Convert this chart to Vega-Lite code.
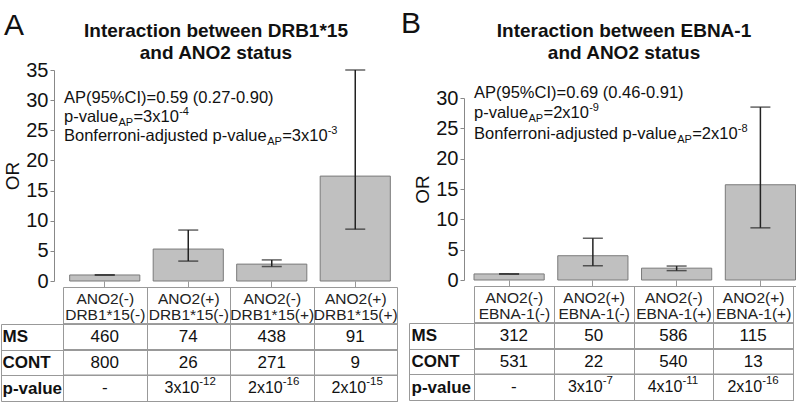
{
  "$schema": "https://vega.github.io/schema/vega-lite/v6.json",
  "padding": {"left": 0, "top": 9, "right": 0, "bottom": 0},
  "background": "white",
  "config": {"font": "Liberation Sans", "view": {"stroke": null}, "axis": {"grid": false}, "axisQuantitative": {"labelOverlap": false, "tickCount": 8}},
  "datasets": {
    "A": [
      {"grp": "ANO2(-)|DRB1*15(-)", "OR": 1, "lo": 1, "hi": 1, "MS": 460, "CONT": 800, "p-value": "-", "pexp": ""},
      {"grp": "ANO2(+)|DRB1*15(-)", "OR": 5.3, "lo": 3.3, "hi": 8.45, "MS": 74, "CONT": 26, "p-value": "3x10", "pexp": "-12"},
      {"grp": "ANO2(-)|DRB1*15(+)", "OR": 2.8, "lo": 2.4, "hi": 3.5, "MS": 438, "CONT": 271, "p-value": "2x10", "pexp": "-16"},
      {"grp": "ANO2(+)|DRB1*15(+)", "OR": 17.4, "lo": 8.6, "hi": 35, "MS": 91, "CONT": 9, "p-value": "2x10", "pexp": "-15"}
    ],
    "B": [
      {"grp": "ANO2(-)|EBNA-1(-)", "OR": 1, "lo": 1, "hi": 1, "MS": 312, "CONT": 531, "p-value": "-", "pexp": ""},
      {"grp": "ANO2(+)|EBNA-1(-)", "OR": 4.0, "lo": 2.35, "hi": 6.9, "MS": 50, "CONT": 22, "p-value": "3x10", "pexp": "-7"},
      {"grp": "ANO2(-)|EBNA-1(+)", "OR": 1.95, "lo": 1.55, "hi": 2.3, "MS": 586, "CONT": 540, "p-value": "4x10", "pexp": "-11"},
      {"grp": "ANO2(+)|EBNA-1(+)", "OR": 15.7, "lo": 8.6, "hi": 28.5, "MS": 115, "CONT": 13, "p-value": "2x10", "pexp": "-16"}
    ]
  },
  "bounds": "full",
  "spacing": 3,
  "hconcat": [
    {
      "bounds": "flush",
      "spacing": 43,
      "vconcat": [
        {"width": 10, "height": 1, "data": {"values": []}, "mark": "point", "encoding": {}},
        {
          "width": 334,
          "height": 211,
          "data": {"name": "A"},
          "encoding": {
            "x": {"field": "grp", "type": "nominal", "sort": null, "scale": {"paddingInner": 0.16, "paddingOuter": 0.08},
              "axis": {"orient": "bottom", "offset": 6, "labels": false, "title": null, "tickSize": -6, "domainColor": "#999", "tickColor": "#999"}}
          },
          "layer": [
            {"mark": {"type": "bar", "fill": "#c0c0c0", "stroke": "#7a7a7a", "strokeWidth": 1},
              "encoding": {"y": {"field": "OR", "type": "quantitative", "title": "OR", "scale": {"domain": [0, 35], "nice": false},
                "axis": {"values": [0, 5, 10, 15, 20, 25, 30, 35], "labelOverlap": false, "offset": 9, "tickSize": 4, "labelFontSize": 20, "labelPadding": 2, "domainColor": "#888", "tickColor": "#888", "labelColor": "#111", "titleFontSize": 19, "titleFontWeight": "normal", "titleColor": "#111", "titlePadding": 3}}}},
            {"mark": {"type": "rule", "color": "#222", "strokeWidth": 1.5},
              "encoding": {"y": {"field": "lo", "type": "quantitative", "title": "OR", "scale": {"domain": [0, 35], "nice": false}}, "y2": {"field": "hi"}}},
            {"mark": {"type": "tick", "color": "#222", "thickness": 1.5, "size": 20, "orient": "horizontal"},
              "encoding": {"y": {"field": "lo", "type": "quantitative", "title": "OR", "scale": {"domain": [0, 35], "nice": false}}}},
            {"mark": {"type": "tick", "color": "#222", "thickness": 1.5, "size": 20, "orient": "horizontal"},
              "encoding": {"y": {"field": "hi", "type": "quantitative", "title": "OR", "scale": {"domain": [0, 35], "nice": false}}}},
            {"data": {"values": [{"t": "A"}]}, "mark": {"type": "text", "align": "left", "baseline": "alphabetic", "fontSize": 30, "dx": -65.7, "dy": -35, "color": "#111"},
              "encoding": {"x": {"datum": "ANO2(-)|DRB1*15(-)", "bandPosition": 0}, "y": {"datum": 35}, "text": {"field": "t"}}},
            {"data": {"values": [{"t": "Interaction between DRB1*15"}]}, "mark": {"type": "text", "align": "center", "baseline": "alphabetic", "fontSize": 19, "fontWeight": "bold", "dx": 146.3, "dy": -33, "color": "#111"},
              "encoding": {"x": {"datum": "ANO2(-)|DRB1*15(-)", "bandPosition": 0}, "y": {"datum": 35}, "text": {"field": "t"}}},
            {"data": {"values": [{"t": "and ANO2 status"}]}, "mark": {"type": "text", "align": "center", "baseline": "alphabetic", "fontSize": 19, "fontWeight": "bold", "dx": 146.3, "dy": -11.5, "color": "#111"},
              "encoding": {"x": {"datum": "ANO2(-)|DRB1*15(-)", "bandPosition": 0}, "y": {"datum": 35}, "text": {"field": "t"}}},
            {"data": {"values": [{"t": "AP(95%CI)=0.59 (0.27-0.90)"}]}, "mark": {"type": "text", "align": "left", "baseline": "alphabetic", "fontSize": 16.5, "dx": -5.7, "color": "#111"},
              "encoding": {"x": {"datum": "ANO2(-)|DRB1*15(-)", "bandPosition": 0}, "y": {"datum": 29.52}, "text": {"field": "t"}}},
            {"data": {"values": [{"t": "p-value"}]}, "mark": {"type": "text", "align": "left", "baseline": "alphabetic", "fontSize": 16.5, "dx": -5.7, "color": "#111"},
              "encoding": {"x": {"datum": "ANO2(-)|DRB1*15(-)", "bandPosition": 0}, "y": {"datum": 26.37}, "text": {"field": "t"}}},
            {"data": {"values": [{"t": "AP"}]}, "mark": {"type": "text", "align": "left", "baseline": "alphabetic", "fontSize": 11, "dx": 48.8, "dy": 4, "color": "#111"},
              "encoding": {"x": {"datum": "ANO2(-)|DRB1*15(-)", "bandPosition": 0}, "y": {"datum": 26.37}, "text": {"field": "t"}}},
            {"data": {"values": [{"t": "=3x10"}]}, "mark": {"type": "text", "align": "left", "baseline": "alphabetic", "fontSize": 16.5, "dx": 63.8, "color": "#111"},
              "encoding": {"x": {"datum": "ANO2(-)|DRB1*15(-)", "bandPosition": 0}, "y": {"datum": 26.37}, "text": {"field": "t"}}},
            {"data": {"values": [{"t": "-4"}]}, "mark": {"type": "text", "align": "left", "baseline": "alphabetic", "fontSize": 11, "dx": 109.5, "dy": -7, "color": "#111"},
              "encoding": {"x": {"datum": "ANO2(-)|DRB1*15(-)", "bandPosition": 0}, "y": {"datum": 26.37}, "text": {"field": "t"}}},
            {"data": {"values": [{"t": "Bonferroni-adjusted p-value"}]}, "mark": {"type": "text", "align": "left", "baseline": "alphabetic", "fontSize": 16.5, "dx": -5.7, "color": "#111"},
              "encoding": {"x": {"datum": "ANO2(-)|DRB1*15(-)", "bandPosition": 0}, "y": {"datum": 23.22}, "text": {"field": "t"}}},
            {"data": {"values": [{"t": "AP"}]}, "mark": {"type": "text", "align": "left", "baseline": "alphabetic", "fontSize": 11, "dx": 197.5, "dy": 4, "color": "#111"},
              "encoding": {"x": {"datum": "ANO2(-)|DRB1*15(-)", "bandPosition": 0}, "y": {"datum": 23.22}, "text": {"field": "t"}}},
            {"data": {"values": [{"t": "=3x10"}]}, "mark": {"type": "text", "align": "left", "baseline": "alphabetic", "fontSize": 16.5, "dx": 212.5, "color": "#111"},
              "encoding": {"x": {"datum": "ANO2(-)|DRB1*15(-)", "bandPosition": 0}, "y": {"datum": 23.22}, "text": {"field": "t"}}},
            {"data": {"values": [{"t": "-3"}]}, "mark": {"type": "text", "align": "left", "baseline": "alphabetic", "fontSize": 11, "dx": 258, "dy": -7, "color": "#111"},
              "encoding": {"x": {"datum": "ANO2(-)|DRB1*15(-)", "bandPosition": 0}, "y": {"datum": 23.22}, "text": {"field": "t"}}}
          ]
        },
        {
          "width": 334,
          "height": 77,
          "view": {"stroke": "#999"},
          "data": {"name": "A"},
          "transform": [{"fold": ["MS", "CONT", "p-value"], "as": ["row", "val"]}],
          "layer": [
            {"mark": {"type": "rule", "color": "#999", "strokeWidth": 1},
              "encoding": {"y": {"field": "row", "type": "nominal", "bandPosition": 0, "scale": {"domain": ["MS", "CONT", "p-value"], "paddingInner": 0, "paddingOuter": 0},
                  "axis": {"title": null, "offset": 62, "tickBand": "extent", "grid": true, "gridColor": "#999", "tickSize": -62, "tickColor": "#999", "domainColor": "#999", "labelAlign": "left", "labelBaseline": "middle", "labelPadding": 61, "labelFontSize": 17, "labelFontWeight": "bold", "labelColor": "#111"}}}},
            {"transform": [{"filter": "datum.row != 'p-value'"}],
              "mark": {"type": "text", "fontSize": 17, "color": "#111"},
              "encoding": {
                "x": {"field": "grp", "type": "nominal", "sort": null, "scale": {"paddingInner": 0, "paddingOuter": 0},
                  "axis": {"orient": "top", "title": null, "tickBand": "extent", "grid": true, "gridColor": "#999", "tickSize": 37, "tickColor": "#999", "domainColor": "#999", "labelExpr": "split(datum.label, '|')", "labelFontSize": 15.5, "labelLineHeight": 16, "labelPadding": -19, "labelColor": "#222", "labelAngle": 0}},
                "y": {"field": "row", "type": "nominal"}, "text": {"field": "val", "type": "nominal"}}},
            {"transform": [{"filter": "datum.row == 'p-value' && datum.pexp != ''"}],
              "mark": {"type": "text", "fontSize": 16, "align": "right", "dx": 11, "color": "#111"},
              "encoding": {"x": {"field": "grp", "type": "nominal", "sort": null}, "y": {"field": "row", "type": "nominal"}, "text": {"field": "val", "type": "nominal"}}},
            {"transform": [{"filter": "datum.row == 'p-value' && datum.pexp != ''"}],
              "mark": {"type": "text", "fontSize": 11.5, "align": "left", "dx": 11, "dy": -6, "color": "#111"},
              "encoding": {"x": {"field": "grp", "type": "nominal", "sort": null}, "y": {"field": "row", "type": "nominal"}, "text": {"field": "pexp", "type": "nominal"}}},
            {"transform": [{"filter": "datum.row == 'p-value' && datum.pexp == ''"}],
              "mark": {"type": "text", "fontSize": 17, "color": "#111"},
              "encoding": {"x": {"field": "grp", "type": "nominal", "sort": null}, "y": {"field": "row", "type": "nominal"}, "text": {"field": "val", "type": "nominal"}}}
          ]
        }
      ]
    },
    {
      "bounds": "flush",
      "spacing": 43,
      "vconcat": [
        {"width": 10, "height": 29, "data": {"values": []}, "mark": "point", "encoding": {}},
        {
          "width": 321.5,
          "height": 182,
          "data": {"name": "B"},
          "encoding": {
            "x": {"field": "grp", "type": "nominal", "sort": null, "scale": {"paddingInner": 0.162, "paddingOuter": 0},
              "axis": {"orient": "bottom", "offset": 6, "labels": false, "title": null, "tickSize": -6, "domainColor": "#999", "tickColor": "#999"}}
          },
          "layer": [
            {"mark": {"type": "bar", "fill": "#c0c0c0", "stroke": "#7a7a7a", "strokeWidth": 1},
              "encoding": {"y": {"field": "OR", "type": "quantitative", "title": "OR", "scale": {"domain": [0, 30], "nice": false},
                "axis": {"values": [0, 5, 10, 15, 20, 25, 30], "labelOverlap": false, "offset": 10, "tickSize": 4, "labelFontSize": 20, "labelPadding": 2, "domainColor": "#888", "tickColor": "#888", "labelColor": "#111", "titleFontSize": 19, "titleFontWeight": "normal", "titleColor": "#111", "titlePadding": 3}}}},
            {"mark": {"type": "rule", "color": "#222", "strokeWidth": 1.5},
              "encoding": {"y": {"field": "lo", "type": "quantitative", "title": "OR", "scale": {"domain": [0, 30], "nice": false}}, "y2": {"field": "hi"}}},
            {"mark": {"type": "tick", "color": "#222", "thickness": 1.5, "size": 20, "orient": "horizontal"},
              "encoding": {"y": {"field": "lo", "type": "quantitative", "title": "OR", "scale": {"domain": [0, 30], "nice": false}}}},
            {"mark": {"type": "tick", "color": "#222", "thickness": 1.5, "size": 20, "orient": "horizontal"},
              "encoding": {"y": {"field": "hi", "type": "quantitative", "title": "OR", "scale": {"domain": [0, 30], "nice": false}}}},
            {"data": {"values": [{"t": "B"}]}, "mark": {"type": "text", "align": "left", "baseline": "alphabetic", "fontSize": 30, "dx": -73, "dy": -65, "color": "#111"},
              "encoding": {"x": {"datum": "ANO2(-)|EBNA-1(-)", "bandPosition": 0}, "y": {"datum": 30}, "text": {"field": "t"}}},
            {"data": {"values": [{"t": "Interaction between EBNA-1"}]}, "mark": {"type": "text", "align": "center", "baseline": "alphabetic", "fontSize": 19, "fontWeight": "bold", "dx": 150, "dy": -61, "color": "#111"},
              "encoding": {"x": {"datum": "ANO2(-)|EBNA-1(-)", "bandPosition": 0}, "y": {"datum": 30}, "text": {"field": "t"}}},
            {"data": {"values": [{"t": "and ANO2 status"}]}, "mark": {"type": "text", "align": "center", "baseline": "alphabetic", "fontSize": 19, "fontWeight": "bold", "dx": 150, "dy": -39.5, "color": "#111"},
              "encoding": {"x": {"datum": "ANO2(-)|EBNA-1(-)", "bandPosition": 0}, "y": {"datum": 30}, "text": {"field": "t"}}},
            {"data": {"values": [{"t": "AP(95%CI)=0.69 (0.46-0.91)"}]}, "mark": {"type": "text", "align": "left", "baseline": "alphabetic", "fontSize": 16.5, "dx": 0, "color": "#111"},
              "encoding": {"x": {"datum": "ANO2(-)|EBNA-1(-)", "bandPosition": 0}, "y": {"datum": 30}, "text": {"field": "t"}}},
            {"data": {"values": [{"t": "p-value"}]}, "mark": {"type": "text", "align": "left", "baseline": "alphabetic", "fontSize": 16.5, "dx": 0, "color": "#111"},
              "encoding": {"x": {"datum": "ANO2(-)|EBNA-1(-)", "bandPosition": 0}, "y": {"datum": 26.7}, "text": {"field": "t"}}},
            {"data": {"values": [{"t": "AP"}]}, "mark": {"type": "text", "align": "left", "baseline": "alphabetic", "fontSize": 11, "dx": 54.5, "dy": 4, "color": "#111"},
              "encoding": {"x": {"datum": "ANO2(-)|EBNA-1(-)", "bandPosition": 0}, "y": {"datum": 26.7}, "text": {"field": "t"}}},
            {"data": {"values": [{"t": "=2x10"}]}, "mark": {"type": "text", "align": "left", "baseline": "alphabetic", "fontSize": 16.5, "dx": 69.5, "color": "#111"},
              "encoding": {"x": {"datum": "ANO2(-)|EBNA-1(-)", "bandPosition": 0}, "y": {"datum": 26.7}, "text": {"field": "t"}}},
            {"data": {"values": [{"t": "-9"}]}, "mark": {"type": "text", "align": "left", "baseline": "alphabetic", "fontSize": 11, "dx": 115.2, "dy": -7, "color": "#111"},
              "encoding": {"x": {"datum": "ANO2(-)|EBNA-1(-)", "bandPosition": 0}, "y": {"datum": 26.7}, "text": {"field": "t"}}},
            {"data": {"values": [{"t": "Bonferroni-adjusted p-value"}]}, "mark": {"type": "text", "align": "left", "baseline": "alphabetic", "fontSize": 16.5, "dx": 0, "color": "#111"},
              "encoding": {"x": {"datum": "ANO2(-)|EBNA-1(-)", "bandPosition": 0}, "y": {"datum": 23.24}, "text": {"field": "t"}}},
            {"data": {"values": [{"t": "AP"}]}, "mark": {"type": "text", "align": "left", "baseline": "alphabetic", "fontSize": 11, "dx": 203.2, "dy": 4, "color": "#111"},
              "encoding": {"x": {"datum": "ANO2(-)|EBNA-1(-)", "bandPosition": 0}, "y": {"datum": 23.24}, "text": {"field": "t"}}},
            {"data": {"values": [{"t": "=2x10"}]}, "mark": {"type": "text", "align": "left", "baseline": "alphabetic", "fontSize": 16.5, "dx": 218.2, "color": "#111"},
              "encoding": {"x": {"datum": "ANO2(-)|EBNA-1(-)", "bandPosition": 0}, "y": {"datum": 23.24}, "text": {"field": "t"}}},
            {"data": {"values": [{"t": "-8"}]}, "mark": {"type": "text", "align": "left", "baseline": "alphabetic", "fontSize": 11, "dx": 263.8, "dy": -7, "color": "#111"},
              "encoding": {"x": {"datum": "ANO2(-)|EBNA-1(-)", "bandPosition": 0}, "y": {"datum": 23.24}, "text": {"field": "t"}}}
          ]
        },
        {
          "width": 319,
          "height": 77,
          "view": {"stroke": "#999"},
          "data": {"name": "B"},
          "transform": [{"fold": ["MS", "CONT", "p-value"], "as": ["row", "val"]}],
          "layer": [
            {"mark": {"type": "rule", "color": "#999", "strokeWidth": 1},
              "encoding": {"y": {"field": "row", "type": "nominal", "bandPosition": 0, "scale": {"domain": ["MS", "CONT", "p-value"], "paddingInner": 0, "paddingOuter": 0},
                  "axis": {"title": null, "offset": 65, "tickBand": "extent", "grid": true, "gridColor": "#999", "tickSize": -65, "tickColor": "#999", "domainColor": "#999", "labelAlign": "left", "labelBaseline": "middle", "labelPadding": 63, "labelFontSize": 17, "labelFontWeight": "bold", "labelColor": "#111"}}}},
            {"transform": [{"filter": "datum.row != 'p-value'"}],
              "mark": {"type": "text", "fontSize": 17, "color": "#111"},
              "encoding": {
                "x": {"field": "grp", "type": "nominal", "sort": null, "scale": {"paddingInner": 0, "paddingOuter": 0},
                  "axis": {"orient": "top", "title": null, "tickBand": "extent", "grid": true, "gridColor": "#999", "tickSize": 37, "tickColor": "#999", "domainColor": "#999", "labelExpr": "split(datum.label, '|')", "labelFontSize": 15.5, "labelLineHeight": 16, "labelPadding": -19, "labelColor": "#222", "labelAngle": 0}},
                "y": {"field": "row", "type": "nominal"}, "text": {"field": "val", "type": "nominal"}}},
            {"transform": [{"filter": "datum.row == 'p-value' && datum.pexp != ''"}],
              "mark": {"type": "text", "fontSize": 16, "align": "right", "dx": 9, "color": "#111"},
              "encoding": {"x": {"field": "grp", "type": "nominal", "sort": null}, "y": {"field": "row", "type": "nominal"}, "text": {"field": "val", "type": "nominal"}}},
            {"transform": [{"filter": "datum.row == 'p-value' && datum.pexp != ''"}],
              "mark": {"type": "text", "fontSize": 11.5, "align": "left", "dx": 9, "dy": -6, "color": "#111"},
              "encoding": {"x": {"field": "grp", "type": "nominal", "sort": null}, "y": {"field": "row", "type": "nominal"}, "text": {"field": "pexp", "type": "nominal"}}},
            {"transform": [{"filter": "datum.row == 'p-value' && datum.pexp == ''"}],
              "mark": {"type": "text", "fontSize": 17, "color": "#111"},
              "encoding": {"x": {"field": "grp", "type": "nominal", "sort": null}, "y": {"field": "row", "type": "nominal"}, "text": {"field": "val", "type": "nominal"}}}
          ]
        }
      ]
    }
  ]
}
